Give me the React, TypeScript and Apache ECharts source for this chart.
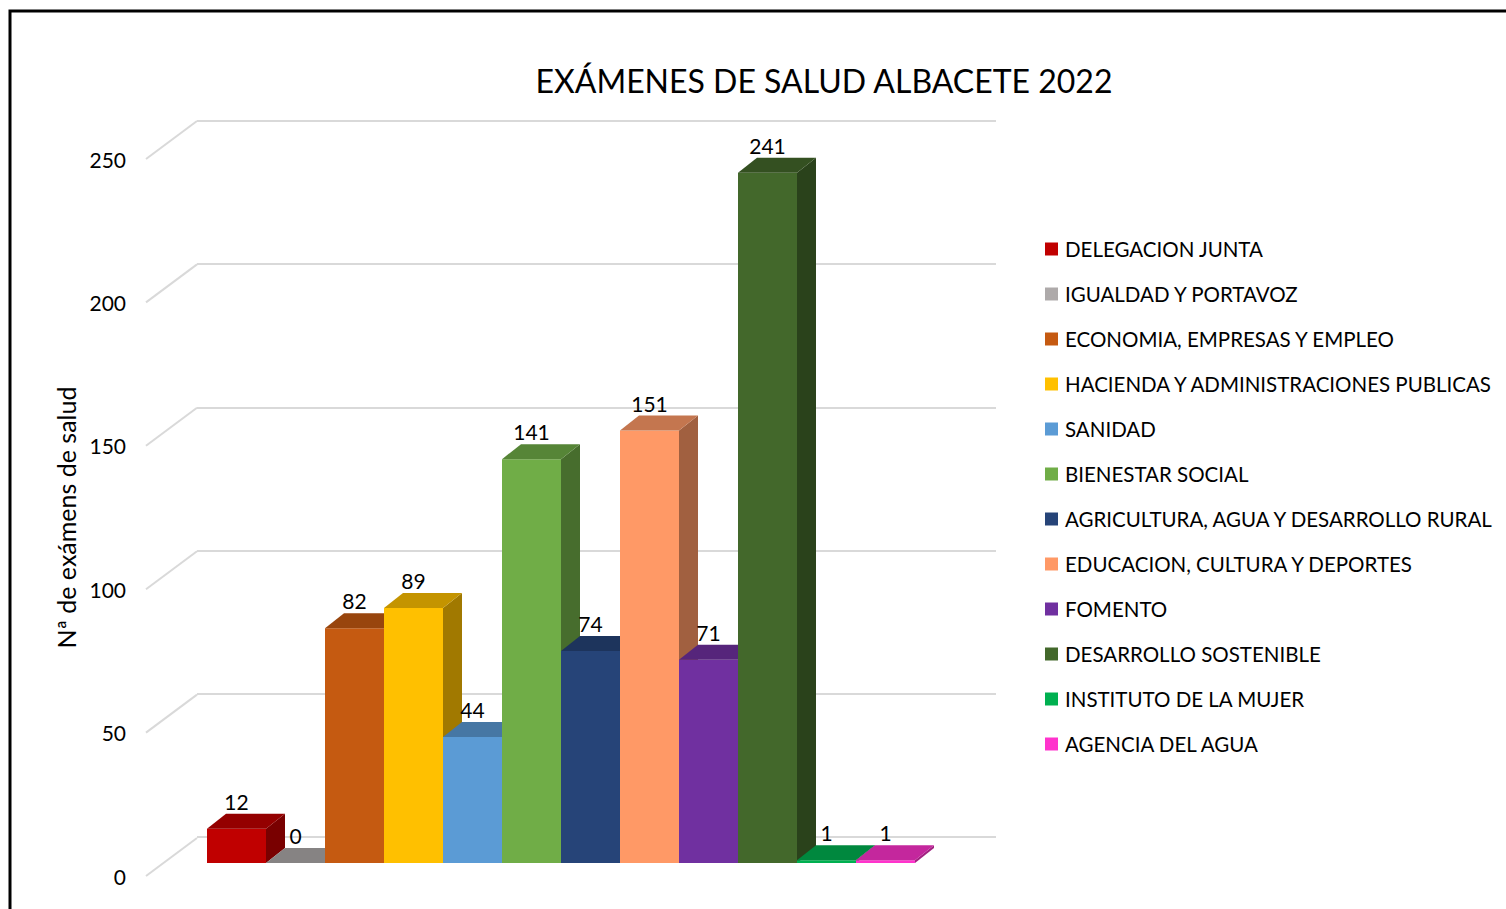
import React, { useEffect, useRef } from "react";
import * as echarts from "echarts";

const TITLE = "EXÁMENES DE SALUD ALBACETE 2022";
const Y_NAME = "Nª de exámens de salud";
const CATEGORIES = [
  "DELEGACION JUNTA",
  "IGUALDAD Y PORTAVOZ",
  "ECONOMIA, EMPRESAS Y EMPLEO",
  "HACIENDA Y ADMINISTRACIONES PUBLICAS",
  "SANIDAD",
  "BIENESTAR SOCIAL",
  "AGRICULTURA, AGUA Y DESARROLLO RURAL",
  "EDUCACION, CULTURA Y DEPORTES",
  "FOMENTO",
  "DESARROLLO SOSTENIBLE",
  "INSTITUTO DE LA MUJER",
  "AGENCIA DEL AGUA",
];
const VALUES = [12, 0, 82, 89, 44, 141, 74, 151, 71, 241, 1, 1];
const COLORS = [
  "#C00000",
  "#AEAAAA",
  "#C55A11",
  "#FFC000",
  "#5B9BD5",
  "#70AD47",
  "#264478",
  "#FF9966",
  "#7030A0",
  "#43682B",
  "#00B050",
  "#FF33CC",
];
const TICKS = [0, 50, 100, 150, 200, 250];

const FONT = "Lato";

function shade(hex: string, f: number): string {
  const n = parseInt(hex.slice(1), 16);
  const r = Math.round(((n >> 16) & 255) * f);
  const g = Math.round(((n >> 8) & 255) * f);
  const b = Math.round((n & 255) * f);
  return `rgb(${r},${g},${b})`;
}

const DEPTH_X = 19;
const DEPTH_Y = -15;
const WALL_X = 51;
const WALL_Y = -38;

export default function App() {
  const ref = useRef<HTMLDivElement>(null);
  useEffect(() => {
    if (!ref.current) return;
    const chart = echarts.init(ref.current, null, { renderer: "svg" });

    const barSeries = CATEGORIES.map((name, i) => ({
      name,
      type: "custom",
      xAxisIndex: 2,
      yAxisIndex: 2,
      itemStyle: { color: COLORS[i] },
      z: 10 + i,
      data: [[i, VALUES[i]]],
      renderItem: (params: any, api: any) => {
        const idx = api.value(0);
        const v = api.value(1);
        const p0 = api.coord([idx, 0]);
        const p1 = api.coord([idx, v]);
        const w = api.size([1, 0])[0];
        const x0 = p0[0] - w / 2;
        const x1 = p0[0] + w / 2;
        const yb = p0[1];
        const yt = p1[1];
        const c = COLORS[i];
        const children: any[] = [];
        if (yb - yt > 0.01) {
          children.push({
            type: "rect",
            shape: { x: x0, y: yt, width: w, height: yb - yt },
            style: { fill: c },
          });
          children.push({
            type: "polygon",
            shape: {
              points: [
                [x1, yt],
                [x1, yb],
                [x1 + DEPTH_X, yb + DEPTH_Y],
                [x1 + DEPTH_X, yt + DEPTH_Y],
              ],
            },
            style: { fill: shade(c, 0.63) },
          });
        }
        children.push({
          type: "polygon",
          shape: {
            points: [
              [x0, yt],
              [x1, yt],
              [x1 + DEPTH_X, yt + DEPTH_Y],
              [x0 + DEPTH_X, yt + DEPTH_Y],
            ],
          },
          style: { fill: shade(c, 0.77) },
        });
        children.push({
          type: "text",
          style: {
            text: String(v),
            x: p0[0],
            y: yt + DEPTH_Y - 2,
            align: "center",
            verticalAlign: "bottom",
            fill: "#000",
            font: `21px ${FONT}`,
          },
        });
        return { type: "group", children };
      },
    }));

    const diagSeries = {
      type: "custom",
      xAxisIndex: 0,
      yAxisIndex: 0,
      silent: true,
      z: 1,
      data: TICKS.map((t) => [0, t]),
      renderItem: (params: any, api: any) => {
        const p = api.coord([0, api.value(1)]);
        return {
          type: "line",
          shape: { x1: p[0], y1: p[1], x2: p[0] + WALL_X, y2: p[1] + WALL_Y },
          style: { stroke: "#D9D9D9", lineWidth: 2 },
        };
      },
    };

    const yBase = {
      type: "value",
      min: 0,
      max: 250,
      interval: 50,
    };

    chart.setOption({
      animation: false,
      backgroundColor: "#fff",
      title: {
        text: TITLE,
        left: 819,
        top: 59,
        textAlign: "center",
        textStyle: { fontFamily: FONT, fontSize: 32, fontWeight: "normal", color: "#000" },
      },
      legend: {
        orient: "vertical",
        left: 1045,
        top: 237,
        padding: 0,
        icon: "rect",
        itemWidth: 13,
        itemHeight: 13,
        itemGap: 21,
        textStyle: { fontFamily: FONT, fontSize: 20.5, color: "#000", lineHeight: 24, padding: [0, 0, 0, 2] },
        data: CATEGORIES.map((n, i) => ({ name: n, itemStyle: { color: COLORS[i] } })),
      },
      graphic: [
        {
          type: "rect",
          shape: { x: 10, y: 11, width: 1600, height: 1000 },
          style: { fill: "none", stroke: "#000", lineWidth: 3 },
          z: 100,
        },
      ],
      grid: [
        { left: 146, top: 159, width: 800, height: 717 },
        { left: 197, top: 121, width: 799, height: 716 },
        { left: 207, top: 147, width: 708, height: 716 },
      ],
      xAxis: [
        { type: "value", gridIndex: 0, min: 0, max: 1, show: false },
        { type: "value", gridIndex: 1, min: 0, max: 1, show: false },
        { type: "category", gridIndex: 2, data: CATEGORIES, show: false, boundaryGap: true },
      ],
      yAxis: [
        {
          ...yBase,
          gridIndex: 0,
          name: Y_NAME,
          nameLocation: "middle",
          nameGap: 68,
          nameTextStyle: { fontFamily: FONT, fontSize: 25, color: "#000" },
          axisLine: { show: false },
          axisTick: { show: false },
          splitLine: { show: false },
          axisLabel: { margin: 20, fontFamily: FONT, fontSize: 21, color: "#000" },
        },
        {
          ...yBase,
          gridIndex: 1,
          axisLine: { show: false },
          axisTick: { show: false },
          axisLabel: { show: false },
          splitLine: { show: true, lineStyle: { color: "#D9D9D9", width: 2 } },
        },
        { ...yBase, gridIndex: 2, show: false, splitLine: { show: false } },
      ],
      series: [diagSeries, ...barSeries],
    });
    return () => chart.dispose();
  }, []);
  return (
    <div
      ref={ref}
      style={{ position: "absolute", left: 0, top: 0, width: 1506, height: 909 }}
    />
  );
}
